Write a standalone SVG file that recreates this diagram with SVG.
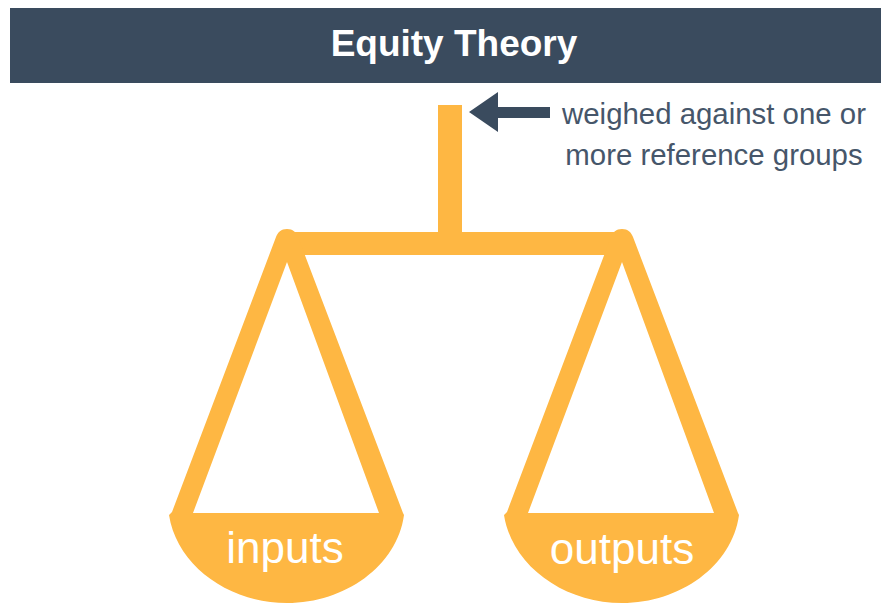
<svg xmlns="http://www.w3.org/2000/svg" width="881" height="603" viewBox="0 0 881 603">
<style>
.f{fill:#feb743}
.d{fill:#3a4b5e}
text{font-family:"Liberation Sans",Arial,sans-serif;text-anchor:middle}
.l{font-size:29.4px;fill:#46566a}
.p{font-size:44px;fill:#fff}
</style>
<defs>
<path id="pan" class="f" fill-rule="evenodd" d="M0 -11C6 -11 9 -8 11 -3L116 273L117 275C110 326 58 363 0 363C-58 363 -110 326 -118 275L-115 272L-11 -3C-9 -8 -6 -11 0 -11ZM0 22L-94 273H92Z"/>
</defs>
<rect width="881" height="603" fill="#fff"/>
<g id="header"><rect class="d" x="10" y="8" width="871" height="75"/><text x="454" y="56" font-size="37" font-weight="700" fill="#fff">Equity Theory</text></g>
<g id="beam"><rect class="f" x="438" y="105" width="24" height="130"/><rect class="f" x="284" y="232" width="340" height="23"/></g>
<g id="inputs"><use href="#pan" x="287" y="240"/><text class="p" x="285" y="563">inputs</text></g>
<g id="outputs"><use href="#pan" x="622" y="240"/><text class="p" x="622" y="564">outputs</text></g>
<g id="connectors"><path class="d" d="M469 112L498 92V107H550V118H498V132Z"/></g>
<g id="label"><text class="l" x="714" y="124">weighed against one or</text><text class="l" x="714" y="165">more reference groups</text></g>
</svg>
